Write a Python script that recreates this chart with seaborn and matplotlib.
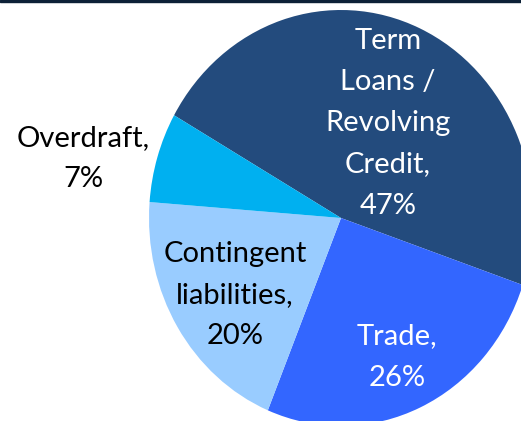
import matplotlib
matplotlib.use('Agg')
import matplotlib.pyplot as plt
import seaborn as sns
from matplotlib.patches import Rectangle

sns.set_style('white')
plt.rcParams['font.family'] = ['Lato', 'DejaVu Sans']

# datos del grafico (orden horario desde arriba)
categorias = ['Term\nLoans /\nRevolving\nCredit', 'Trade', 'Contingent\nliabilities', 'Overdraft']
valores = [47, 26, 20, 7]
colores = ['#234B7D', '#3366FF', '#99CCFF', '#00B0F0']
color_texto = ['white', 'white', 'black', 'black']
# posicion de cada etiqueta (coordenadas del eje)
pos_etiquetas = [(0.245, 0.455), (0.292, -0.668), (-0.552, -0.370), (-1.344, 0.285)]

fig = plt.figure(figsize=(5.21, 4.21), dpi=100)
ax = fig.add_axes([149 / 521, -5 / 421, 384 / 521, 416 / 421])

wedges, textos = ax.pie(valores, labels=[f'{c},\n{v}%' for c, v in zip(categorias, valores)],
                        colors=colores, startangle=150.4, counterclock=False,
                        wedgeprops={'linewidth': 0})
for t, p, c in zip(textos, pos_etiquetas, color_texto):
    t.set_position(p)
    t.set_ha('center')
    t.set_va('center')
    t.set_color(c)
    t.set_fontsize(21)
    t.set_linespacing(1.72)
    t.set_clip_on(False)

ax.set_aspect('auto')
ax.set_xlim(-1, 1)
ax.set_ylim(-1, 1)
ax.axis('off')

# linea oscura arriba
fig.patches.append(Rectangle((0, 1 - 2 / 421), 1, 2 / 421, transform=fig.transFigure,
                             color='#0D2137', zorder=10))

fig.savefig('out.png', dpi=100)
